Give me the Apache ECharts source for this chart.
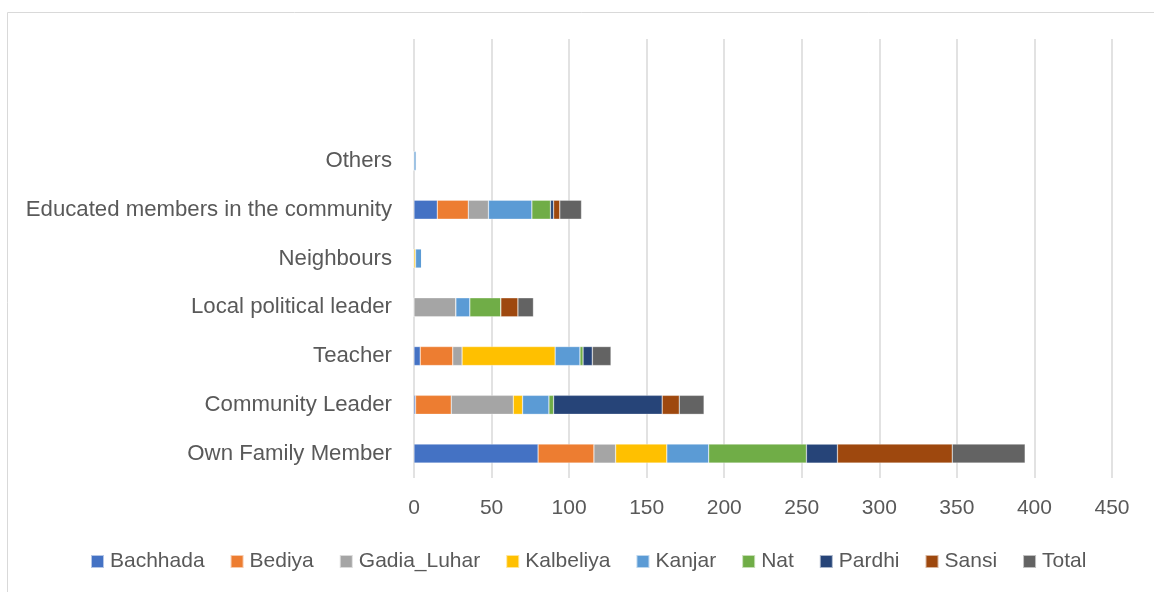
<!DOCTYPE html>
<html>
<head>
<meta charset="utf-8">
<script src="https://cdn.jsdelivr.net/npm/echarts@6/dist/echarts.min.js"></script>
<style>
html,body{margin:0;padding:0;background:#fff;}
#chart{width:1154px;height:592px;}
</style>
</head>
<body>
<div id="chart"></div>
<script>
// Categories (bottom to top); last two are blank slots as in the reference
const categories = ['Own Family Member', 'Community Leader', 'Teacher', 'Local political leader', 'Neighbours', 'Educated members in the community', 'Others', ' ', '  '];
const seriesNames = ['Bachhada', 'Bediya', 'Gadia_Luhar', 'Kalbeliya', 'Kanjar', 'Nat', 'Pardhi', 'Sansi', 'Total'];
const bachhada  = [80, 1, 4, 0, 0, 15, 0, null, null];
const bediya    = [36, 23, 21, 0, 0, 20, 0, null, null];
const gadiaLuhar= [14, 40, 6, 27, 0, 13, 0, null, null];
const kalbeliya = [33, 6, 60, 0, 1, 0, 0, null, null];
const kanjar    = [27, 17, 16, 9, 4, 28, 1.5, null, null];
const nat       = [63, 3, 2, 20, 0, 12, 0, null, null];
const pardhi    = [20, 70, 6, 0, 0, 2, 0, null, null];
const sansi     = [74, 11, 0, 11, 0, 4, 0, null, null];
const total     = [47, 16, 12, 10, 0, 14, 0, null, null];
const xTicks = [0, 50, 100, 150, 200, 250, 300, 350, 400, 450];

const values = [bachhada, bediya, gadiaLuhar, kalbeliya, kanjar, nat, pardhi, sansi, total];
const colors = ['#4472C4', '#ED7D31', '#A5A5A5', '#FFC000', '#5B9BD5', '#70AD47', '#264478', '#9E480E', '#636363'];

const chart = echarts.init(document.getElementById('chart'), null, {renderer: 'canvas'});
const font = '"Liberation Sans", Arial, sans-serif';
chart.setOption({
  animation: false,
  color: colors,
  graphic: [{
    type: 'rect', shape: {x: 7.5, y: 12.5, width: 1200, height: 700},
    style: {fill: 'none', stroke: '#d9d9d9', lineWidth: 1}, silent: true, z: -1
  }],
  grid: {left: 414, right: 42, top: 39, bottom: 114, containLabel: false},
  legend: {
    data: seriesNames, left: 85, top: 546,
    itemWidth: 13, itemHeight: 13, itemGap: 25,
    icon: 'rect',
    textStyle: {fontFamily: font, fontSize: 21, color: '#595959', padding: [0, 0, 0, 1]}
  },
  xAxis: {
    type: 'value', min: xTicks[0], max: xTicks[xTicks.length - 1], interval: 50,
    axisLine: {show: false}, axisTick: {show: false},
    splitLine: {show: true, lineStyle: {color: '#d9d9d9', width: 1.5}},
    axisLabel: {fontFamily: font, fontSize: 21, color: '#595959', margin: 20}
  },
  yAxis: {
    type: 'category', data: categories,
    axisLine: {show: false}, axisTick: {show: false},
    axisLabel: {fontFamily: font, fontSize: 22.2, color: '#595959', margin: 22}
  },
  series: seriesNames.map((n, i) => ({
    name: n, type: 'bar', stack: 'all', barWidth: 19,
    data: values[i],
    itemStyle: {borderColor: 'rgba(255,255,255,0.6)', borderWidth: 0.5}
  }))
});
</script>
</body>
</html>
